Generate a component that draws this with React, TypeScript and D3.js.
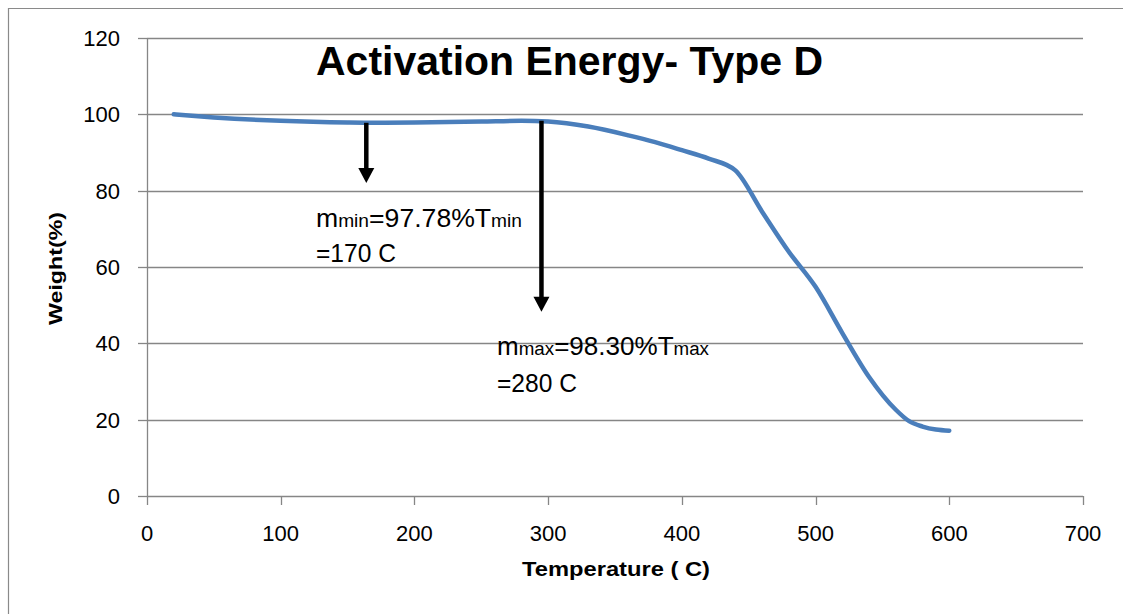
import React from "react";
import * as d3 from "d3";

// ---- data ----
const temperatures = [20, 50, 100, 150, 170, 200, 250, 280, 300, 330, 360, 380, 400, 420, 440, 460, 480, 500, 520, 540, 560, 570, 580, 590, 600];
const weights = [100, 99.2, 98.3, 97.85, 97.78, 97.85, 98.1, 98.3, 98.1, 96.8, 94.5, 92.7, 90.6, 88.4, 85.3, 74.5, 64, 54.8, 42.7, 31.2, 22.6, 19.6, 18.2, 17.4, 17.1];
const xTicks = [0, 100, 200, 300, 400, 500, 600, 700];
const yTicks = [0, 20, 40, 60, 80, 100, 120];
const arrowX = [164, 295];
const arrowFrom = [97.78, 98.3];
const arrowTo = [82, 48.3];

const titleText = "Activation Energy- Type D";
const xTitle = "Temperature ( C)";
const yTitle = "Weight(%)";

const W = 1123;
const H = 614;
const left = 147;
const right = 1083;
const top = 38;
const bottom = 496;

export default function App() {
  const x = d3.scaleLinear().domain([0, 700]).range([left, right]);
  const y = d3.scaleLinear().domain([0, 120]).range([bottom, top]);
  const pts = temperatures.map((t, i) => [t, weights[i]] as [number, number]);
  const line = d3
    .line<[number, number]>()
    .x((d) => x(d[0]))
    .y((d) => y(d[1]))
    .curve(d3.curveMonotoneX);
  const grid = "#868686";
  const font = "'Liberation Sans', Arial, sans-serif";

  return (
    <div style={{ position: "absolute", left: 0, top: 0 }}>
      <svg width={W} height={H} style={{ display: "block", background: "#fff" }}>
        <rect x={0} y={0} width={W} height={H} fill="#fff" />
        {/* outer chart border */}
        <path d={`M8.5,${H + 5} V8.5 H${W + 5}`} fill="none" stroke="#8a8a8a" strokeWidth={1.2} />
        {/* gridlines */}
        {yTicks.map((v) => (
          <g key={"g" + v}>
            {v > 0 && (
              <line x1={left} x2={right} y1={Math.round(y(v)) + 0.5} y2={Math.round(y(v)) + 0.5} stroke={grid} strokeWidth={1.3} />
            )}
            <line x1={left - 9} x2={left} y1={Math.round(y(v)) + 0.5} y2={Math.round(y(v)) + 0.5} stroke={grid} strokeWidth={1.3} />
            <text
              x={120}
              y={y(v)}
              dy="0.36em"
              textAnchor="end"
              fontFamily={font}
              fontSize={22}
              fill="#000"
            >
              {v}
            </text>
          </g>
        ))}
        {/* axes */}
        <line x1={left + 0.5} x2={left + 0.5} y1={top} y2={bottom} stroke={grid} strokeWidth={1.3} />
        <line x1={left} x2={right} y1={bottom + 0.5} y2={bottom + 0.5} stroke={grid} strokeWidth={1.3} />
        {xTicks.map((v) => (
          <g key={"x" + v}>
            <line x1={Math.round(x(v)) + 0.5} x2={Math.round(x(v)) + 0.5} y1={bottom} y2={bottom + 9} stroke={grid} strokeWidth={1.3} />
            <text x={x(v)} y={540.5} textAnchor="middle" fontFamily={font} fontSize={22} fill="#000">
              {v}
            </text>
          </g>
        ))}
        {/* data curve */}
        <path d={line(pts) || ""} fill="none" stroke="#4a7ebb" strokeWidth={4.5} strokeLinecap="round" strokeLinejoin="round" />
        {/* arrows */}
        {arrowX.map((t, i) => {
          const ax = x(t);
          const y0 = y(arrowFrom[i]);
          const y1 = y(arrowTo[i]);
          return (
            <g key={"a" + i}>
              <line x1={ax} x2={ax} y1={y0} y2={y1 - 12} stroke="#000" strokeWidth={4.5} />
              <path d={`M${ax - 8},${y1 - 15} L${ax + 8},${y1 - 15} L${ax},${y1} Z`} fill="#000" />
            </g>
          );
        })}
        {/* annotations */}
        <text x={316} y={227} fontFamily={font} fontSize={25} fill="#000" textLength={206} lengthAdjust="spacingAndGlyphs">
          m<tspan fontSize={18}>min</tspan>=97.78%T<tspan fontSize={18}>min</tspan>
        </text>
        <text x={316} y={262} fontFamily={font} fontSize={25} fill="#000" textLength={80} lengthAdjust="spacingAndGlyphs">
          =170 C
        </text>
        <text x={497} y={355} fontFamily={font} fontSize={25} fill="#000" textLength={212} lengthAdjust="spacingAndGlyphs">
          m<tspan fontSize={18}>max</tspan>=98.30%T<tspan fontSize={18}>max</tspan>
        </text>
        <text x={497} y={392} fontFamily={font} fontSize={25} fill="#000" textLength={80} lengthAdjust="spacingAndGlyphs">
          =280 C
        </text>
        {/* title */}
        <text x={316} y={74.5} fontFamily={font} fontWeight="bold" fontSize={41} fill="#000" textLength={507} lengthAdjust="spacingAndGlyphs">
          {titleText}
        </text>
        {/* axis titles */}
        <text x={616} y={576} textAnchor="middle" fontFamily={font} fontWeight="bold" fontSize={21} fill="#000" textLength={188} lengthAdjust="spacingAndGlyphs">
          {xTitle}
        </text>
        <text
          transform={`translate(62,268.5) rotate(-90)`}
          textAnchor="middle"
          fontFamily={font}
          fontWeight="bold"
          fontSize={19}
          fill="#000"
          textLength={113}
          lengthAdjust="spacingAndGlyphs"
        >
          {yTitle}
        </text>
      </svg>
    </div>
  );
}
